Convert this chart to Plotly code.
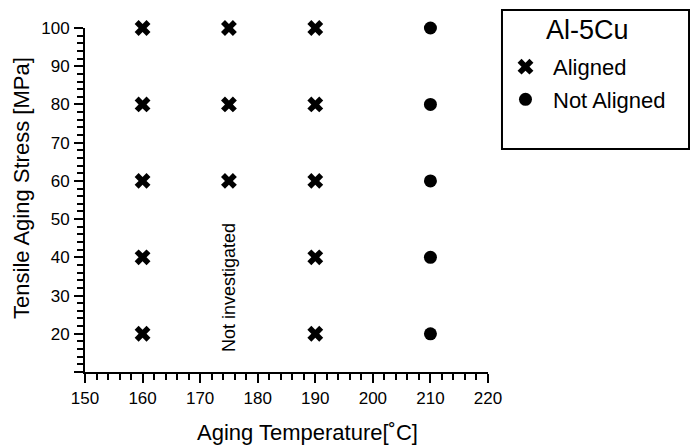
import plotly.graph_objects as go

# Aging conditions (temperature in °C, tensile aging stress in MPa)
aligned_temp = [160, 160, 160, 160, 160, 175, 175, 175, 190, 190, 190, 190, 190]
aligned_stress = [20, 40, 60, 80, 100, 60, 80, 100, 20, 40, 60, 80, 100]
not_aligned_temp = [210, 210, 210, 210, 210]
not_aligned_stress = [20, 40, 60, 80, 100]

x_ticks = [150, 160, 170, 180, 190, 200, 210, 220]
x_tick_text = ["150", "160", "170", "180", "190", "200", "210", "220"]
y_ticks = [10, 20, 30, 40, 50, 60, 70, 80, 90, 100]
y_tick_text = ["", "20", "30", "40", "50", "60", "70", "80", "90", "100"]

FONT = "Liberation Sans, Arial, Helvetica, sans-serif"

fig = go.Figure()
fig.add_trace(go.Scatter(
    x=aligned_temp, y=aligned_stress, mode="markers", name="Aligned",
    legendgroup="a", cliponaxis=False,
    marker=dict(symbol="x", size=14, color="black", line=dict(width=0)),
))
fig.add_trace(go.Scatter(
    x=not_aligned_temp, y=not_aligned_stress, mode="markers", name="Not Aligned",
    legendgroup="b", cliponaxis=False,
    marker=dict(symbol="circle", size=13, color="black", line=dict(width=0)),
))

axis_common = dict(
    showline=True, linecolor="black", linewidth=2, mirror=False,
    ticks="outside", ticklen=9, tickwidth=2, tickcolor="black",
    showgrid=False, zeroline=False, tickmode="array",
    tickfont=dict(family=FONT, size=17, color="black"),
)

# Minor ticks every 2 units
minor_ticks = dict(dtick=2, ticks="outside", ticklen=6, tickwidth=2,
                   tickcolor="black", showgrid=False)

fig.update_xaxes(
    range=[150, 220], tickvals=x_ticks, ticktext=x_tick_text,
    ticklabelstandoff=1, minor=dict(tick0=150, **minor_ticks),
    **axis_common,
)
fig.update_yaxes(
    range=[10, 100], tickvals=y_ticks, ticktext=y_tick_text,
    ticklabelstandoff=1, minor=dict(tick0=10, **minor_ticks),
    **axis_common,
)

# Axis titles
fig.add_annotation(
    text="Aging Temperature[˚C]", xref="paper", yref="paper",
    x=0.551, y=-0.177, xanchor="center", yanchor="middle", showarrow=False,
    font=dict(family=FONT, size=22, color="black"),
)
fig.add_annotation(
    text="Tensile Aging Stress [MPa]", xref="paper", yref="paper",
    x=-0.158, y=0.536, xanchor="center", yanchor="middle", showarrow=False,
    textangle=-90, font=dict(family=FONT, size=22, color="black"),
)

# Note on the untested conditions at 175 °C
fig.add_annotation(
    text="Not investigated", x=175, y=32.2, xref="x", yref="y",
    xanchor="center", yanchor="middle", showarrow=False, textangle=-90,
    font=dict(family=FONT, size=18, color="black"),
)

# Legend frame and heading
fig.add_shape(
    type="rect", xref="paper", yref="paper",
    x0=1.0347, x1=1.4988, y0=0.6483, y1=1.0523,
    line=dict(color="black", width=2), fillcolor="rgba(0,0,0,0)",
)
fig.add_annotation(
    text="Al-5Cu", xref="paper", yref="paper",
    x=1.2457, y=0.9942, xanchor="center", yanchor="middle", showarrow=False,
    font=dict(family=FONT, size=27, color="black"),
)

fig.update_layout(
    width=690, height=447,
    margin=dict(l=85, r=202, t=28, b=75),
    paper_bgcolor="white", plot_bgcolor="white",
    font=dict(family=FONT, color="black"),
    showlegend=True,
    legend=dict(
        x=1.0248, y=0.948, xanchor="left", yanchor="top",
        bgcolor="rgba(0,0,0,0)", borderwidth=0,
        font=dict(family=FONT, size=22, color="black"),
        traceorder="grouped", tracegroupgap=1, itemwidth=45,
    ),
)

fig.write_html("out.html")
